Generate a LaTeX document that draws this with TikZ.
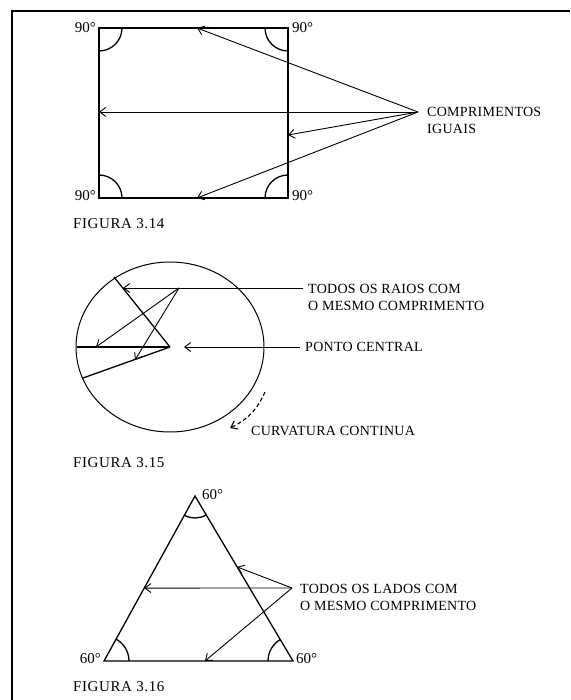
\documentclass[tikz,border=0pt]{standalone}
\usepackage{fontspec}
\setmainfont{Liberation Serif}
\usetikzlibrary{arrows.meta,calc}

\begin{document}
\begin{tikzpicture}[x=1pt,y=-1pt,
    outline/.style={line width=1.3pt},
    thin arr/.style={line width=0.9pt,-{Straight Barb[length=6pt,width=9pt]}},
    lbl/.style={inner sep=0pt,font=\fontsize{15}{17}\selectfont},
    caps/.style={inner sep=0pt,align=left,font=\fontsize{14}{17}\selectfont\addfontfeature{LetterSpace=2}}]
            \useasboundingbox (0,0) rectangle (570,700);
            \draw[line width=2.6pt] (12,700) -- (12,11) -- (570,11);
            % figura 3.14
            \coordinate (tl) at (99,28); \coordinate (tr) at (288,28); \coordinate (br) at (288,198); \coordinate (bl) at (99,198);
            \draw[outline] (tl) -- (tr) -- (br) -- (bl) -- cycle;
            \draw[outline] (tl) ++(23,0) arc[start angle=0,end angle=90,radius=23]; \draw[outline] (tr) ++(-23,0) arc[start angle=180,end angle=90,radius=23];
            \draw[outline] (br) ++(-23,0) arc[start angle=180,end angle=270,radius=23]; \draw[outline] (bl) ++(23,0) arc[start angle=0,end angle=-90,radius=23];
            \node[lbl,anchor=east] (a1) at (96,28) {90°}; \node[lbl,anchor=west] (a2) at (292,28) {90°};
            \node[lbl,anchor=east] (a3) at (96,196) {90°}; \node[lbl,anchor=west] (a4) at (292,196) {90°};
            \coordinate (hub1) at (418,112);
            \coordinate (s1) at (197,28); \coordinate (s2) at (99,112); \coordinate (s3) at (288,135); \coordinate (s4) at (197,198);
            \foreach \s in {s1,s2,s3,s4} \draw[thin arr] (hub1) -- (\s);
            \node[caps,anchor=west] (iguais) at (427,120) {COMPRIMENTOS\\IGUAIS};
            \node[lbl,anchor=west,font=\fontsize{15}{17}\selectfont\addfontfeature{LetterSpace=4}] (f14) at (73,224) {FIGURA 3.14};
            % figura 3.15
            \coordinate (c) at (170,347);
            \draw[line width=1pt] (c) ellipse[x radius=94,y radius=85];
            \coordinate (r1) at (114,277); \coordinate (r2) at (77,347); \coordinate (r3) at (83,378);
            \foreach \r in {r1,r2,r3} \draw[outline] (c) -- (\r);
            \coordinate (fan) at (179,288); \coordinate (raio) at (303,288);
            \draw[thin arr] (raio) -- (123,288);
            \draw[thin arr] (fan) -- (96,347); \draw[thin arr] (fan) -- (135,360);
            \coordinate (ponto) at (300,347);
            \draw[thin arr] (ponto) -- (184,347);
            \node[caps,anchor=west] (raios) at (308,297) {TODOS OS RAIOS COM\\O MESMO COMPRIMENTO};
            \node[caps,anchor=west] (centro) at (305,347) {PONTO CENTRAL};
            \coordinate (d1) at (265,392); \coordinate (d2) at (230,428);
            \draw[thin arr,line width=1.1pt,dash pattern=on 4pt off 2.5pt] (d1) to[bend left=20] (d2);
            \node[caps,anchor=west] (curva) at (251,431) {CURVATURA CONTINUA};
            \node[lbl,anchor=west,font=\fontsize{15}{17}\selectfont\addfontfeature{LetterSpace=4}] (f15) at (73,463) {FIGURA 3.15};
            % figura 3.16
            \coordinate (A) at (195,496); \coordinate (L) at (104,661); \coordinate (R) at (293,661);
            \draw[outline] (A) -- (L) -- (R) -- cycle;
            \draw[outline] (A) ++(59.3:22) arc[start angle=59.3,end angle=118.9,radius=22];
            \draw[outline] (L) ++(0:25) arc[start angle=0,end angle=-61.1,radius=25];
            \draw[outline] (R) ++(180:25) arc[start angle=180,end angle=239.3,radius=25];
            \node[lbl,anchor=west] (b1) at (202,495) {60°}; \node[lbl,anchor=east] (b2) at (101,659) {60°}; \node[lbl,anchor=west] (b3) at (296,659) {60°};
            \coordinate (hub3) at (292,588);
            \coordinate (l1) at ($(A)!0.43!(R)$); \coordinate (l2) at ($(A)!0.558!(L)$); \coordinate (l3) at (205,661);
            \foreach \l in {l1,l2,l3} \draw[thin arr] (hub3) -- (\l);
            \node[caps,anchor=west] (lados) at (300,597) {TODOS OS LADOS COM\\O MESMO COMPRIMENTO};
            \node[lbl,anchor=west,font=\fontsize{15}{17}\selectfont\addfontfeature{LetterSpace=4}] (f16) at (73,687) {FIGURA 3.16};
        \end{tikzpicture}
\end{document}
